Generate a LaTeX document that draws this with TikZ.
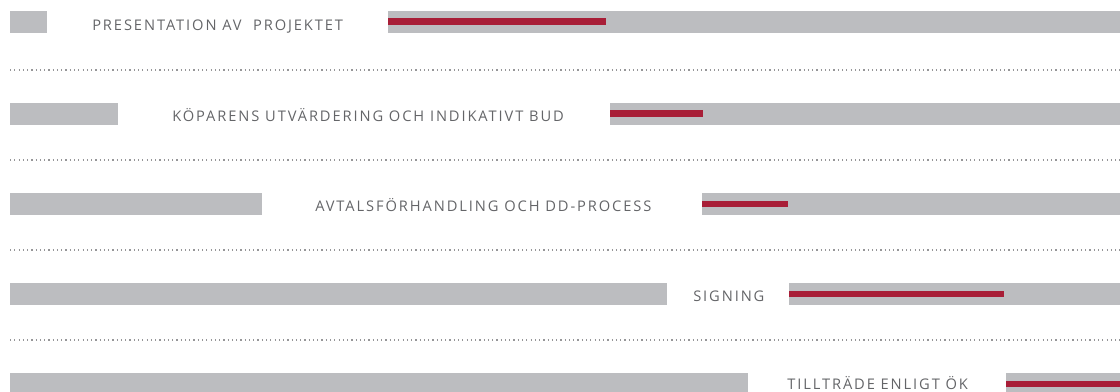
\documentclass[tikz,border=0pt]{standalone}
\usepackage{fontspec}
\newfontfamily\lab{Open Sans}[LetterSpace=13]
\definecolor{bargray}{RGB}{188,189,192}
\definecolor{barred}{RGB}{168,30,55}
\definecolor{txtgray}{RGB}{100,101,104}
\definecolor{dotgray}{RGB}{150,150,152}
\tikzset{
  graybar/.style={fill=bargray},
  redbar/.style={fill=barred},
  lbl/.style={inner sep=0pt, anchor=base west, text=txtgray, font=\lab\fontsize{11pt}{13pt}\selectfont},
  dotline/.style={draw=dotgray, line width=0.9pt, dash pattern=on 0.9pt off 2.3pt}
}
\begin{document}
\begin{tikzpicture}[x=0.75pt,y=-0.75pt]
\useasboundingbox (0,0) rectangle (1120,392);
% row 1
\fill[graybar] (10,11) rectangle (47,33);
\node[lbl] (t1) at (92,30.5) {PRESENTATION AV\ \ PROJEKTET};
\fill[graybar] (388,11) rectangle (1120,33);
\fill[redbar] (388,18.5) rectangle (606,25);
\draw[dotline] (10,70) -- (1120,70);
% row 2
\fill[graybar] (10,103) rectangle (118,125);
\node[lbl] (t2) at (172,121.5) {KÖPARENS UTVÄRDERING OCH INDIKATIVT BUD};
\fill[graybar] (610,103) rectangle (1120,125);
\fill[redbar] (610,110.5) rectangle (703,117);
\draw[dotline] (10,160) -- (1120,160);
% row 3
\fill[graybar] (10,193) rectangle (262,215);
\node[lbl] (t3) at (315,211.5) {AVTALSFÖRHANDLING OCH DD-PROCESS};
\fill[graybar] (702,193) rectangle (1120,215);
\fill[redbar] (702,200.5) rectangle (788,207);
\draw[dotline] (10,250) -- (1120,250);
% row 4
\fill[graybar] (10,283) rectangle (667,305);
\node[lbl] (t4) at (693,301.5) {SIGNING};
\fill[graybar] (789,283) rectangle (1120,305);
\fill[redbar] (789,290.5) rectangle (1004,297);
\draw[dotline] (10,340) -- (1120,340);
% row 5
\fill[graybar] (10,373) rectangle (748,395);
\node[lbl] (t5) at (787,389.5) {TILLTRÄDE ENLIGT ÖK};
\fill[graybar] (1006,373) rectangle (1120,395);
\fill[redbar] (1006,380.5) rectangle (1120,387);
\end{tikzpicture}
\end{document}
